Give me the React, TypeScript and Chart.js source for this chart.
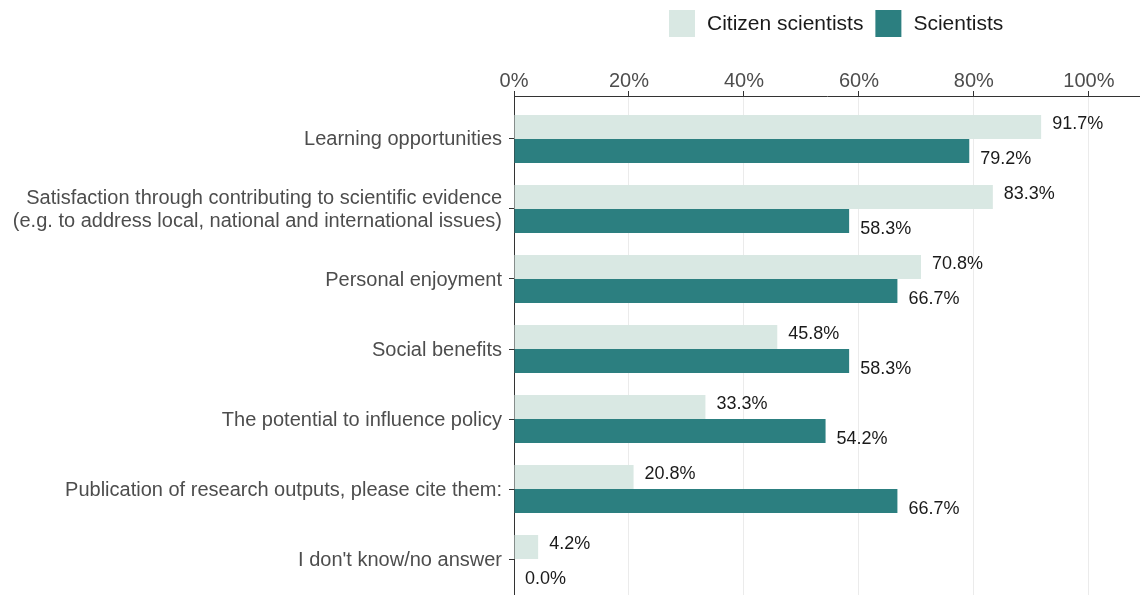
import React, { useEffect, useRef } from "react";
import { Chart, registerables } from "chart.js";

Chart.register(...registerables);

const categories: (string | string[])[] = [
  "Learning opportunities",
  [
    "Satisfaction through contributing to scientific evidence",
    "(e.g. to address local, national and international issues)",
  ],
  "Personal enjoyment",
  "Social benefits",
  "The potential to influence policy",
  "Publication of research outputs, please cite them:",
  "I don't know/no answer",
];
const citizenScientists = [91.7, 83.3, 70.8, 45.8, 33.3, 20.8, 4.2];
const scientists = [79.2, 58.3, 66.7, 58.3, 54.2, 66.7, 0.0];
const xTickValues = [0, 20, 40, 60, 80, 100];
const seriesNames = ["Citizen scientists", "Scientists"];
const seriesColors = ["#D9E8E3", "#2C7F80"];

const FONT = "'Liberation Sans', Arial, sans-serif";

const dataLabelPlugin = {
  id: "dataLabels",
  afterDatasetsDraw(chart: any) {
    const ctx = chart.ctx;
    ctx.save();
    ctx.font = `18px ${FONT}`;
    ctx.fillStyle = "#1A1A1A";
    ctx.textAlign = "left";
    ctx.textBaseline = "middle";
    chart.data.datasets.forEach((ds: any, i: number) => {
      const meta = chart.getDatasetMeta(i);
      meta.data.forEach((el: any, j: number) => {
        const v = ds.data[j].x as number;
        ctx.fillText(v.toFixed(1) + "%", el.x + 11, el.y + (i === 0 ? -3 : 8));
      });
    });
    ctx.restore();
  },
};

const legendPlugin = {
  id: "customLegend",
  afterDraw(chart: any) {
    const ctx = chart.ctx;
    ctx.save();
    ctx.font = `21px ${FONT}`;
    ctx.textBaseline = "middle";
    ctx.textAlign = "left";
    let x = 669;
    const y = 10;
    const box = 27;
    chart.data.datasets.forEach((ds: any) => {
      ctx.fillStyle = ds.backgroundColor;
      ctx.fillRect(x, y, 26, box);
      x += 26 + 12;
      ctx.fillStyle = "#1A1A1A";
      ctx.fillText(ds.label, x, y + box / 2 + 1);
      x += ctx.measureText(ds.label).width + 12;
    });
    ctx.restore();
  },
};

export default function App() {
  const ref = useRef<HTMLCanvasElement>(null);

  useEffect(() => {
    document.body.style.margin = "0";
    const canvas = ref.current!;
    const chart = new Chart(canvas, {
      type: "bar",
      data: {
        datasets: [
          {
            label: seriesNames[0],
            data: citizenScientists.map((v, i) => ({ x: v, y: i })),
            backgroundColor: seriesColors[0],
            borderWidth: 0,
          },
          {
            label: seriesNames[1],
            data: scientists.map((v, i) => ({ x: v, y: i })),
            backgroundColor: seriesColors[1],
            borderWidth: 0,
          },
        ] as any,
      },
      options: {
        indexAxis: "y",
        animation: false,
        responsive: true,
        maintainAspectRatio: false,
        layout: { padding: 0 },
        datasets: {
          bar: { categoryPercentage: 48 / 70, barPercentage: 1 },
        },
        plugins: {
          legend: { display: false },
          tooltip: { enabled: false },
        },
        scales: {
          x: {
            type: "linear",
            position: "top",
            min: 0,
            max: 108.9,
            afterBuildTicks: (scale: any) => {
              scale.ticks = xTickValues.map((v) => ({ value: v }));
            },
            afterFit: (scale: any) => {
              scale.height = 96;
              scale.paddingLeft = 0;
              scale.paddingRight = 0;
            },
            ticks: {
              callback: (v: any) => v + "%",
              font: { family: FONT, size: 20 },
              color: "#4D4D4D",
              padding: -2,
              maxRotation: 0,
            },
            grid: {
              color: "#EBEBEB",
              lineWidth: 1,
              tickColor: "#333333",
              tickLength: 5,
            },
            border: { display: true, color: "#333333", width: 1 },
          },
          y: {
            type: "linear",
            reverse: true,
            offset: false,
            min: -0.614,
            max: 6.514,
            afterBuildTicks: (scale: any) => {
              scale.ticks = categories.map((_, i) => ({ value: i }));
            },
            afterFit: (scale: any) => {
              scale.width = 514;
              scale.paddingTop = 0;
              scale.paddingBottom = 0;
            },
            ticks: {
              callback: (v: any) => categories[v as number] as any,
              font: { family: FONT, size: 20, lineHeight: 1.15 },
              color: "#4D4D4D",
              padding: 7,
              labelOffset: 1,
              autoSkip: false,
            },
            grid: {
              offset: false,
              drawOnChartArea: false,
              tickColor: "#333333",
              tickLength: 5,
            },
            border: { display: true, color: "#333333", width: 1 },
          },
        },
      } as any,
      plugins: [dataLabelPlugin, legendPlugin],
    });
    return () => chart.destroy();
  }, []);

  return (
    <div style={{ position: "absolute", left: 0, top: 0, width: 1140, height: 595 }}>
      <canvas ref={ref} />
    </div>
  );
}
